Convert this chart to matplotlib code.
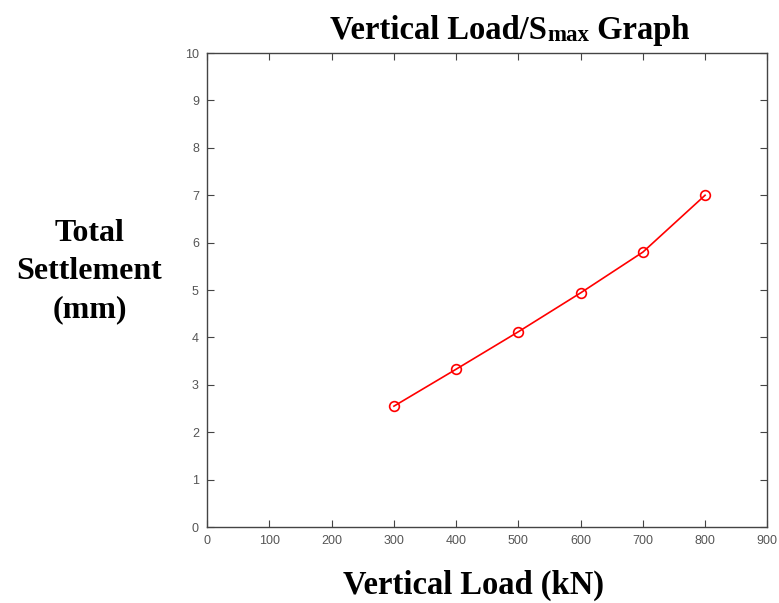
import matplotlib
matplotlib.use("Agg")
import matplotlib.pyplot as plt

load_kn = [300, 400, 500, 600, 700, 800]
settlement_mm = [2.55, 3.33, 4.12, 4.94, 5.80, 7.00]
x_ticks = list(range(0, 901, 100))
y_ticks = list(range(0, 11))

fig = plt.figure(figsize=(7.79, 6.03), dpi=100)
ax = fig.add_axes([0.266, 0.126, 0.719, 0.786])

ax.plot(load_kn, settlement_mm, color="red", lw=1.2, marker="o",
        ms=7, mfc="none", mec="red", mew=1.2)

ax.set_xlim(0, 900)
ax.set_ylim(0, 10)
ax.set_xticks(x_ticks)
ax.set_yticks(y_ticks)
ax.tick_params(direction="in", length=5, top=True, right=True,
               labelsize=9, labelcolor="#555555", color="#444444", pad=6)
for lab in ax.get_xticklabels() + ax.get_yticklabels():
    lab.set_family("Liberation Sans")
for s in ax.spines.values():
    s.set_color("#444444")
    s.set_linewidth(1.0)

serif = dict(family="Liberation Serif", weight="bold", color="black")

# title, with a smaller "max" sitting on the baseline
t1 = fig.text(0.424, 0.936, "Vertical Load/S", fontsize=23.5, va="baseline", **serif)
t2 = ax.annotate("max", xy=(1, 0), xycoords=t1, va="bottom", ha="left",
                 fontsize=16.5, **serif)
t3 = ax.annotate(" Graph", xy=(1, 0), xycoords=t2, va="bottom", ha="left",
                 fontsize=23.5, **serif)

fig.text(0.608, 0.016, "Vertical Load (kN)", fontsize=23.5, ha="center", **serif)
fig.text(0.115, 0.549, "Total\nSettlement\n(mm)", fontsize=23, ha="center",
         va="center", linespacing=1.42, **serif)

fig.savefig("out.png", dpi=100)
